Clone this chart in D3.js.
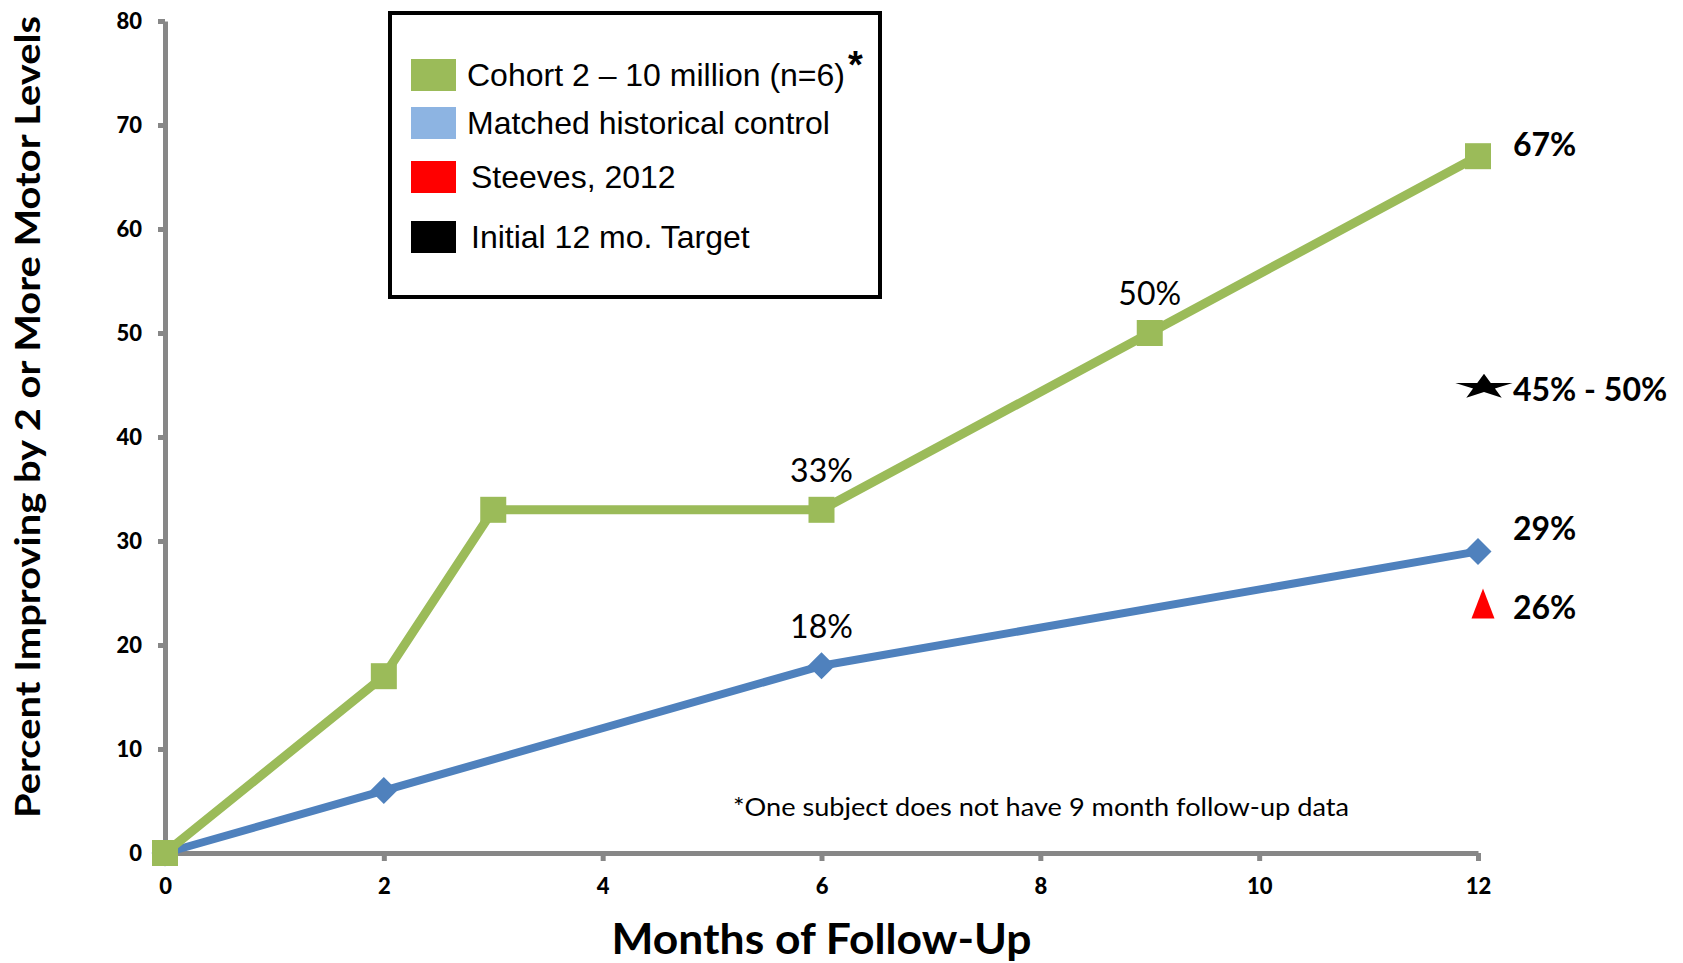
<!DOCTYPE html>
<html>
<head>
<meta charset="utf-8">
<script src="https://cdn.jsdelivr.net/npm/d3@7"></script>
<style>
  body { margin: 0; background: #fff; }
  svg { display: block; }
</style>
</head>
<body>
<svg width="1683" height="963"></svg>
<script>
// data
const cohortMonths = [0, 2, 3, 6, 9, 12]
const cohortValues = [0, 17, 33, 33, 50, 67]
const controlMonths = [0, 2, 6, 12]
const controlValues = [0, 6, 18, 29]
const steevesMonth = 12, steevesValue = 24
const targetMonth = 12, targetValue = 45
const xTicks = [0, 2, 4, 6, 8, 10, 12]
const yTicks = [0, 10, 20, 30, 40, 50, 60, 70, 80]
const pointLabels = [
    { month: 6, value: 33, text: '33%' },
    { month: 9, value: 50, text: '50%' },
    { month: 6, value: 18, text: '18%' }
]
const endLabels = ['67%', '45% - 50%', '29%', '26%']
const legendNames = ['Cohort 2 \u2013 10 million (n=6)', 'Matched historical control', 'Steeves, 2012', 'Initial 12 mo. Target']
const legendColors = ['#9BBB59', '#8DB4E2', '#FF0000', '#000000']

const green = '#9BBB59', blue = '#4F81BD', axisGray = '#878787'

const svg = d3.select('svg')
const margin = { top: 21, left: 165, right: 205, bottom: 110 }
const width = +svg.attr('width'), height = +svg.attr('height')

const x = d3.scaleLinear().domain([0, 12]).range([margin.left, width - margin.right])
const y = d3.scaleLinear().domain([0, 80]).range([height - margin.bottom, margin.top])

//axes
svg.append('g')
    .attr('transform', `translate(${x(0)},0)`)
    .call(d3.axisLeft(y).tickValues(yTicks).tickSize(7).tickSizeOuter(0).tickPadding(16))
svg.append('g')
    .attr('transform', `translate(0,${y(0)})`)
    .call(d3.axisBottom(x).tickValues(xTicks).tickSize(8).tickSizeOuter(0).tickPadding(17))

svg.selectAll('.domain, .tick line')
    .attr('stroke', axisGray)
    .attr('stroke-width', 5)
svg.selectAll('.tick text')
    .attr('fill', '#000')
    .style('font-family', 'Lato, sans-serif')
    .style('font-weight', '900')
    .style('font-size', '22px')

//axis titles
svg.append('text')
    .text('Percent Improving by 2 or More Motor Levels')
    .attr('transform', `translate(40,${(16 + 818) / 2}) rotate(-90)`)
    .attr('text-anchor', 'middle')
    .attr('textLength', 802)
    .attr('lengthAdjust', 'spacingAndGlyphs')
    .style('font-family', 'Lato, sans-serif')
    .style('font-weight', 'bold')
    .style('font-size', '34px')

svg.append('text')
    .text('Months of Follow-Up')
    .attr('x', x(6))
    .attr('y', 954)
    .attr('text-anchor', 'middle')
    .attr('textLength', 420)
    .attr('lengthAdjust', 'spacingAndGlyphs')
    .style('font-family', 'Lato, sans-serif')
    .style('font-weight', 'bold')
    .style('font-size', '42px')

//lines
const line = d3.line().x(d => x(d[0])).y(d => y(d[1]))
const control = d3.zip(controlMonths, controlValues)
const cohort = d3.zip(cohortMonths, cohortValues)

svg.append('path')
    .datum(control)
    .attr('d', line)
    .attr('fill', 'none')
    .attr('stroke', blue)
    .attr('stroke-width', 8)
    .attr('stroke-linejoin', 'round')

svg.selectAll('.diamond')
    .data(control)
    .enter().append('path')
    .attr('class', 'diamond')
    .attr('d', 'M0,-13.5L13.5,0L0,13.5L-13.5,0Z')
    .attr('transform', d => `translate(${x(d[0])},${y(d[1])})`)
    .attr('fill', blue)

svg.append('path')
    .datum(cohort)
    .attr('d', line)
    .attr('fill', 'none')
    .attr('stroke', green)
    .attr('stroke-width', 9)
    .attr('stroke-linejoin', 'round')

svg.selectAll('.square')
    .data(cohort)
    .enter().append('rect')
    .attr('class', 'square')
    .attr('x', d => x(d[0]) - 13)
    .attr('y', d => y(d[1]) - 13)
    .attr('width', 26)
    .attr('height', 26)
    .attr('fill', green)

//single markers at 12 months
const markerShift = 5
svg.append('path')
    .attr('d', 'M0,-15L11.5,15L-11.5,15Z')
    .attr('transform', `translate(${x(steevesMonth) + markerShift},${y(steevesValue)})`)
    .attr('fill', '#FF0000')

svg.append('path')
    .attr('d', d3.symbol(d3.symbolStar, 520)())
    .attr('transform', `translate(${x(targetMonth) + markerShift + 1},${y(targetValue) + 2}) scale(1.4,0.62)`)
    .attr('fill', '#000')

//labels
svg.selectAll('.point-label')
    .data(pointLabels)
    .enter().append('text')
    .attr('class', 'point-label')
    .text(d => d.text)
    .attr('x', d => x(d.month))
    .attr('y', d => y(d.value) - 28)
    .attr('text-anchor', 'middle')
    .style('font-family', 'Lato, sans-serif')
    .style('font-size', '32px')

const endValues = [cohortValues[5], targetValue, controlValues[3], steevesValue]
const endShift = [0, 16, -11, 16]
svg.selectAll('.end-label')
    .data(endLabels)
    .enter().append('text')
    .attr('class', 'end-label')
    .text(d => d)
    .attr('x', x(12) + 35)
    .attr('y', (d, i) => y(endValues[i]) + endShift[i])
    .style('font-family', 'Lato, sans-serif')
    .style('font-weight', 'bold')
    .style('font-size', '32px')

//footnote
svg.append('text')
    .text('*One subject does not have 9 month follow-up data')
    .attr('x', 733)
    .attr('y', 816)
    .attr('textLength', 616)
    .attr('lengthAdjust', 'spacingAndGlyphs')
    .style('font-family', 'Lato, sans-serif')
    .style('font-size', '25px')

//legend
const legend = svg.append('g')
legend.append('rect')
    .attr('x', 390)
    .attr('y', 13)
    .attr('width', 490)
    .attr('height', 284)
    .attr('fill', '#fff')
    .attr('stroke', '#000')
    .attr('stroke-width', 4)

const rowY = [75, 123, 177, 237]
const textX = [467, 467, 471, 471]
legendNames.forEach((name, i) => {
    legend.append('rect')
        .attr('x', 411)
        .attr('y', rowY[i] - 16)
        .attr('width', 45)
        .attr('height', 32)
        .attr('fill', legendColors[i])
    legend.append('text')
        .text(name)
        .attr('x', textX[i])
        .attr('y', rowY[i])
        .attr('dy', '0.35em')
        .style('font-family', '"Liberation Sans", Arial, sans-serif')
        .style('font-size', '32px')
})
legend.append('text')
    .text('*')
    .attr('x', 848)
    .attr('y', 78)
    .style('font-family', '"Liberation Sans", Arial, sans-serif')
    .style('font-weight', 'bold')
    .style('font-size', '38px')
</script>
</body>
</html>
